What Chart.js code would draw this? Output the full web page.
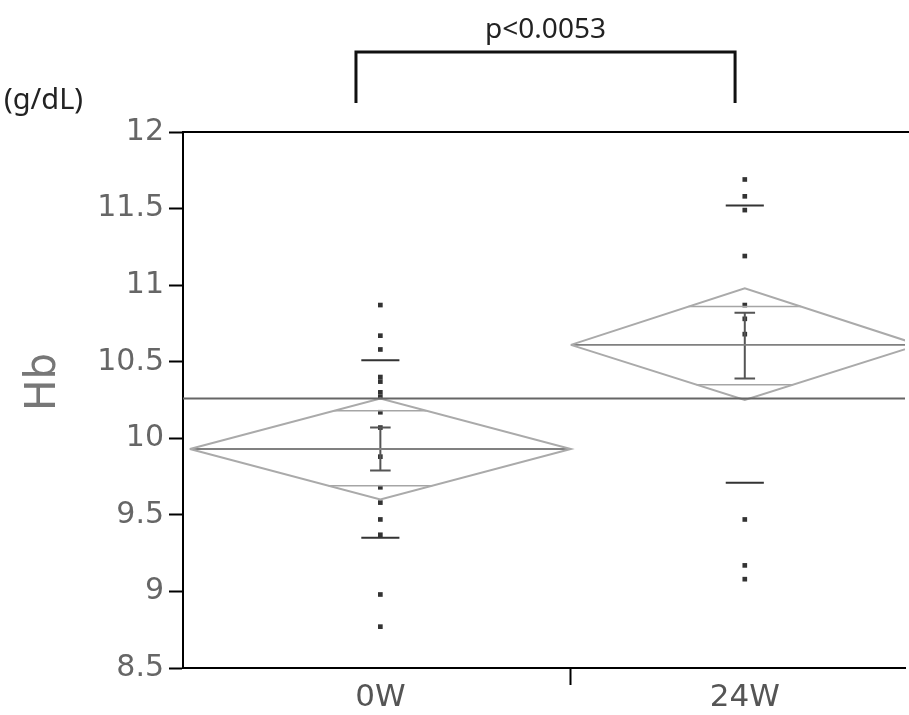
<!DOCTYPE html>
<html>
<head>
<meta charset="utf-8">
<script src="https://cdn.jsdelivr.net/npm/chart.js@4.4.1/dist/chart.umd.min.js"></script>
<style>
  html, body { margin: 0; padding: 0; background: #fff; }
  #wrap { width: 909px; height: 715px; }
</style>
</head>
<body>
<div id="wrap"><canvas id="hbChart"></canvas></div>
<script>
const groups = ['0W', '24W'];
const hb0W = [10.87, 10.67, 10.58, 10.40, 10.37, 10.30, 10.27, 10.17, 10.07, 9.88, 9.68, 9.58, 9.47, 9.37, 8.98, 8.77];
const hb24W = [11.69, 11.58, 11.49, 11.19, 10.87, 10.78, 10.68, 9.47, 9.17, 9.08];
const groupMean = [9.93, 10.61];
const ciHigh = [10.26, 10.98];
const ciLow = [9.60, 10.25];
const overlapHigh = [10.18, 10.86];
const overlapLow = [9.69, 10.35];
const seHigh = [10.07, 10.82];
const seLow = [9.79, 10.39];
const sdHigh = [10.51, 11.52];
const sdLow = [9.35, 9.71];
const grandMean = 10.26;
const yTicks = [8.5, 9, 9.5, 10, 10.5, 11, 11.5, 12];
const yTickLabels = ['8.5', '9', '9.5', '10', '10.5', '11', '11.5', '12'];
const pValueLabel = 'p<0.0053';
const unitLabel = '(g/dL)';
const yTitle = 'Hb';

// group widths along x (JMP style, width ~ group size)
const groupSpan = [[0, 1], [1, 1.913]];
const xMin = -0.018, xMax = 1.877;
const center = i => (groupSpan[i][0] + groupSpan[i][1]) / 2;
const half = i => (groupSpan[i][1] - groupSpan[i][0]) / 2;
const GAP = { x: 0, y: null };

function lineSet(data, color, width, dash) {
    return {
        type: 'scatter',
        data: data,
        showLine: true,
        spanGaps: false,
        borderColor: color,
        borderWidth: width,
        borderDash: dash || [],
        pointRadius: 0,
        pointHoverRadius: 0,
        tension: 0
    };
}

const diamonds = [], meanLines = [], overlaps = [], seBars = [], sdLines = [], points = [];
[hb0W, hb24W].forEach((vals, i) => {
    const c = center(i), h = half(i), m = groupMean[i];
    diamonds.push({ x: c - h, y: m }, { x: c, y: ciHigh[i] }, { x: c + h, y: m },
                  { x: c, y: ciLow[i] }, { x: c - h, y: m }, GAP);
    meanLines.push({ x: c - h, y: m }, { x: c + h, y: m }, GAP);
    [[overlapHigh[i], ciHigh[i]], [overlapLow[i], ciLow[i]]].forEach(([ov, tip]) => {
        const w = h * (1 - Math.abs(ov - m) / Math.abs(tip - m));
        overlaps.push({ x: c - w, y: ov }, { x: c + w, y: ov }, GAP);
    });
    const cap = 0.027;
    seBars.push({ x: c, y: seLow[i] }, { x: c, y: seHigh[i] }, GAP,
                { x: c - cap, y: seHigh[i] }, { x: c + cap, y: seHigh[i] }, GAP,
                { x: c - cap, y: seLow[i] }, { x: c + cap, y: seLow[i] }, GAP);
    const sw = 0.05;
    sdLines.push({ x: c - sw, y: sdHigh[i] }, { x: c + sw, y: sdHigh[i] }, GAP,
                 { x: c - sw, y: sdLow[i] }, { x: c + sw, y: sdLow[i] }, GAP);
    vals.forEach(v => points.push({ x: c, y: v }));
});

const frame = {
    id: 'frame',
    afterDraw(chart) {
        const { ctx, chartArea: a, scales } = chart;
        ctx.save();
        ctx.strokeStyle = '#000';
        ctx.lineWidth = 2;
        ctx.beginPath();
        ctx.moveTo(a.left - 1, a.top);
        ctx.lineTo(chart.width, a.top);
        ctx.stroke();

        // y title
        ctx.fillStyle = '#777';
        ctx.font = '42px "DejaVu Sans"';
        ctx.textAlign = 'center';
        ctx.textBaseline = 'middle';
        ctx.translate(44, 382);
        ctx.rotate(-Math.PI / 2);
        ctx.fillText(yTitle, 0, 0);
        ctx.setTransform(1, 0, 0, 1, 0, 0);

        ctx.fillStyle = '#222';
        ctx.font = '29px "Noto Sans"';
        ctx.textAlign = 'left';
        ctx.fillText(unitLabel, 4, 101);

        // significance bracket
        const x0 = scales.x.getPixelForValue(0.436);
        const x1 = scales.x.getPixelForValue(1.431);
        ctx.lineWidth = 3;
        ctx.strokeStyle = '#111';
        ctx.beginPath();
        ctx.moveTo(x0, 103);
        ctx.lineTo(x0, 52);
        ctx.lineTo(x1, 52);
        ctx.lineTo(x1, 103);
        ctx.stroke();
        ctx.font = '28px "Noto Sans"';
        ctx.textAlign = 'center';
        ctx.fillText(pValueLabel, (x0 + x1) / 2, 30);
        ctx.restore();
    }
};

const chart = new Chart(document.getElementById('hbChart'), {
    type: 'scatter',
    data: {
        datasets: [
            lineSet([{ x: xMin, y: grandMean }, { x: xMax, y: grandMean }], '#666', 2),
            lineSet(diamonds, '#aaa', 2),
            lineSet(meanLines, '#808080', 1.8),
            lineSet(overlaps, '#a5a5a5', 1.5),
            lineSet(seBars, '#555', 2),
            lineSet(sdLines, '#333', 2),
            {
                type: 'scatter',
                data: points,
                pointStyle: 'rect',
                pointRadius: 3.3,
                backgroundColor: '#333',
                borderWidth: 0
            }
        ]
    },
    options: {
        responsive: true,
        maintainAspectRatio: false,
        animation: false,
        layout: { padding: { top: 132, left: 0, right: -4, bottom: 0 } },
        plugins: { legend: { display: false }, tooltip: { enabled: false } },
        scales: {
            x: {
                type: 'linear',
                min: xMin,
                max: xMax,
                afterBuildTicks: axis => {
                    axis.ticks = [{ value: center(0) }, { value: groupSpan[0][1] }, { value: center(1) }];
                },
                afterFit: axis => { axis.height = 47; },
                ticks: {
                    autoSkip: false,
                    maxRotation: 0,
                    padding: -6,
                    color: '#555',
                    font: { family: 'DejaVu Sans', size: 31 },
                    callback: (v, i) => i === 0 ? groups[0] : (i === 2 ? groups[1] : '')
                },
                grid: {
                    drawOnChartArea: false,
                    tickLength: 17,
                    tickWidth: 2,
                    tickColor: c => c.index === 1 ? '#000' : 'rgba(0,0,0,0)'
                },
                border: { color: '#000', width: 2 }
            },
            y: {
                type: 'linear',
                min: 8.5,
                max: 12,
                afterBuildTicks: axis => { axis.ticks = yTicks.map(v => ({ value: v })); },
                afterFit: axis => { axis.width = 183; },
                ticks: {
                    padding: 5,
                    color: '#666',
                    font: { family: 'DejaVu Sans', size: 30 },
                    callback: v => yTickLabels[yTicks.indexOf(v)]
                },
                grid: {
                    drawOnChartArea: false,
                    tickLength: 14,
                    tickWidth: 2,
                    tickColor: '#000'
                },
                border: { color: '#000', width: 2 }
            }
        }
    },
    plugins: [frame]
});
</script>
</body>
</html>
